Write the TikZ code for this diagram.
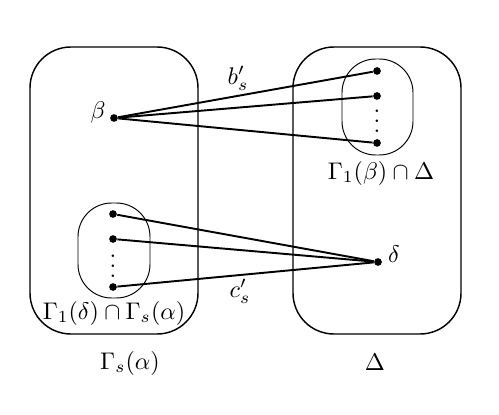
\documentclass[tikz,border=0pt]{standalone}
\usepackage{tikz}
\usetikzlibrary{positioning}
\begin{document}
\begin{tikzpicture}[
    x=0.0146cm, y=-0.0146cm,
    vert/.style={circle, fill, inner sep=0pt, minimum size=3.2pt},
    bigset/.style={draw, line width=0.6pt, rounded corners=17pt},
    subset/.style={draw, line width=0.4pt, rounded corners=14pt},
    link/.style={line width=0.8pt},
    dotcol/.style={inner sep=0pt}
]
\useasboundingbox (0,0) rectangle (499,415);
%% The two big sets
\draw[bigset] (30,47) rectangle (198,334);
\draw[bigset] (293,47) rectangle (461,334);
\node (gsa) at (130,363) {$\Gamma_s(\alpha)$};
\node (dlt) at (375,362) {$\Delta$};
%% Neighbours of beta inside Delta
\draw[subset] (342,59) rectangle (413,155);
\node[vert] (r1) at (377,71) {};
\node[vert] (r2) at (377,96) {};
\node[vert] (r3) at (377,143) {};
\node[dotcol] (rdots) at (377,114) {$\vdots$};
\node (rlab) at (381,173) {$\Gamma_1(\beta)\cap\Delta$};
%% Neighbours of delta inside Gamma_s(alpha)
\draw[subset] (78,203) rectangle (150,298);
\node[vert] (l1) at (113,214) {};
\node[vert] (l2) at (113,239) {};
\node[vert] (l3) at (113,287) {};
\node[dotcol] (ldots) at (113,259) {$\vdots$};
\node (llab) at (114,313) {$\Gamma_1(\delta)\cap\Gamma_s(\alpha)$};
%% beta and delta
\node[vert] (beta) at (114,118) {};
\node (betalab) at (98,112) {$\beta$};
\node[vert] (delta) at (378,262) {};
\node (deltalab) at (394,254) {$\delta$};
%% Edges
\draw[link] (beta) -- (r1);
\draw[link] (beta) -- (r2);
\draw[link] (beta) -- (r3);
\draw[link] (delta) -- (l1);
\draw[link] (delta) -- (l2);
\draw[link] (delta) -- (l3);
\node (bs) at (238,78) {$b'_s$};
\node (cs) at (240,291) {$c'_s$};
\end{tikzpicture}
\end{document}
